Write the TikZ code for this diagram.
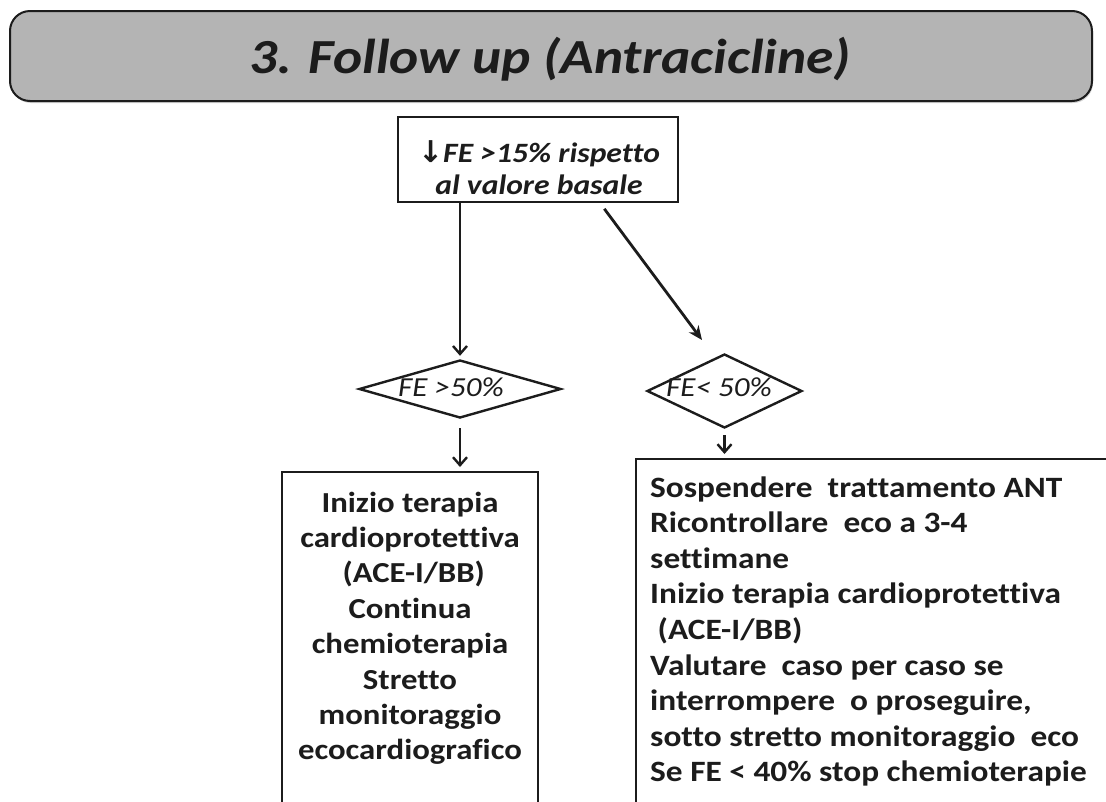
\documentclass[tikz,border=0pt]{standalone}
\usepackage{fontspec}
\setmainfont{Carlito}[FakeStretch=1.13, Ligatures=NoCommon]
\newfontfamily\arrowfont{DejaVu Sans}
\usetikzlibrary{shapes.geometric,arrows.meta,calc,shadows}

\definecolor{titlegray}{HTML}{B4B4B4}
\definecolor{inkdark}{HTML}{1C1C1C}

\tikzset{
  titlebox/.style={draw=inkdark, line width=2pt, fill=titlegray,
    rounded corners=20pt, minimum width=1082pt, minimum height=90pt,
    drop shadow={shadow xshift=1pt, shadow yshift=-2pt, opacity=0.35}},
  plainbox/.style={draw=inkdark, line width=2.4pt, fill=white, inner sep=0pt},
  choice/.style={diamond, draw=inkdark, line width=2.4pt, fill=white, inner sep=0pt},
  conn/.style={draw=inkdark, line width=2.8pt},
  barb/.style={conn, -{Straight Barb[length=8pt,width=14pt,line width=2.4pt]}},
  pointed/.style={conn, -{Stealth[length=14pt,width=12pt]}},
  bodytext/.style={text=inkdark, inner sep=0pt},
}

\begin{document}
\begin{tikzpicture}[x=1pt, y=-1pt]
  \useasboundingbox (0,0) rectangle (1106,801);
  \clip (0,0) rectangle (1106,801);
  \fill[white] (0,0) rectangle (1106,801);

  % header banner
  \node[titlebox] (title) at (551,56) {};
  \node[bodytext, anchor=base] (titletext) at (550,73)
    {\fontsize{49}{58}\selectfont\bfseries\itshape 3. Follow up (Antracicline)};

  % starting condition
  \node[plainbox, minimum width=280pt, minimum height=85pt] (top) at (538,159.5) {};
  \node[bodytext, anchor=base] (toptext) at (539,162)
    {\parbox[t]{276pt}{\centering\fontsize{28}{32}\selectfont\bfseries\itshape
      {\arrowfont\bfseries\fontsize{30}{32}\selectfont ↓}FE >15\% rispetto\\al valore basale}};

  % decisions
  \node[choice, minimum width=202pt, minimum height=58pt] (ld) at (460,389) {};
  \node[bodytext, anchor=base] (ldtext) at (451,396)
    {\fontsize{27.5}{32}\selectfont\itshape FE >50\%};
  \node[choice, minimum width=155pt, minimum height=74pt] (rd) at (724.5,391) {};
  \node[bodytext, anchor=base] (rdtext) at (719,396)
    {\fontsize{27.5}{32}\selectfont\itshape FE< 50\%};

  % outcome boxes (run past the lower edge)
  \node[plainbox, minimum width=256pt, minimum height=380pt, anchor=north] (lbox) at (410,471) {};
  \node[bodytext, anchor=base] (lboxtext) at (410,512)
    {\parbox[t]{250pt}{\centering\fontsize{29}{35.4}\selectfont\bfseries
      Inizio terapia\\cardioprotettiva\\~(ACE-I/BB)\\Continua\\chemioterapia\\Stretto\\monitoraggio\\ecocardiografico}};

  \node[plainbox, minimum width=500pt, minimum height=380pt, anchor=north west] (rbox) at (635,458) {};
  \node[bodytext, anchor=base west] (rboxtext) at (650,497)
    {\parbox[t]{450pt}{\raggedright\fontsize{29.5}{35.6}\selectfont\bfseries
      Sospendere\ \ trattamento ANT\\
      Ricontrollare\ \ eco a 3-4\\
      settimane\\
      Inizio terapia cardioprotettiva\\
      \ (ACE-I/BB)\\
      Valutare\ \ caso per caso se\\
      interrompere\ \ o proseguire,\\
      sotto stretto monitoraggio\ \ eco\\
      Se FE < 40\% stop chemioterapie}};

  % connectors
  \coordinate (dtip) at (702,340);
  \draw[barb, shorten >=3pt] (top.south -| ld.north) -- (ld.north);
  \draw[pointed, shorten <=7pt] ($(top.south west)!0.72!(top.south east)$) -- (dtip);
  \draw[barb, shorten <=9pt, shorten >=4pt] (ld.south) -- (ld.south |- lbox.north);
  \draw[barb, shorten <=6pt, shorten >=4pt] (rd.south) -- (rd.south |- rbox.north);
\end{tikzpicture}
\end{document}
